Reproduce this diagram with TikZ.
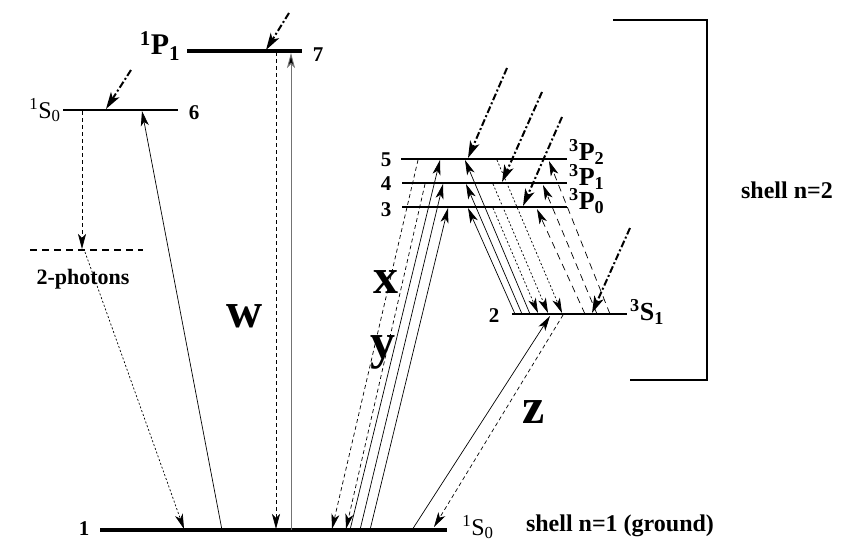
\documentclass[tikz,border=0pt]{standalone}
\usepackage{fontspec}
\setmainfont{Liberation Serif}
\usetikzlibrary{arrows.meta}
\newcommand{\trm}[3]{\textsuperscript{#1}#2\textsubscript{#3}}
\begin{document}
\begin{tikzpicture}[x=1pt,y=-1pt,
  tip/.style={-{Stealth[length=15pt,width=8pt,inset=4pt]}},
  solidarr/.style={tip, line width=0.7pt},
  grayarr/.style={line width=0.9pt, draw=black!55, -{Stealth[length=15pt,width=8pt,inset=4pt,fill=black]}},
  dasharr/.style={tip, line width=0.7pt, dash pattern=on 4pt off 3pt},
  dotarr/.style={tip, line width=0.7pt, dash pattern=on 2pt off 2pt},
  longdash/.style={tip, line width=0.7pt, dash pattern=on 7pt off 5pt},
  incoming/.style={-{Stealth[length=17pt,width=10pt,inset=4.5pt]}, line width=2pt, dash pattern=on 7pt off 2.5pt on 2pt off 2.5pt},
  lev/.style={line width=#1},
  bnum/.style={font=\bfseries\fontsize{21}{21}\selectfont, inner sep=0pt},
  bterm/.style={font=\bfseries\fontsize{26}{26}\selectfont, inner sep=0pt},
  nterm/.style={font=\fontsize{24}{24}\selectfont, inner sep=0pt},
  btext/.style={font=\bfseries\fontsize{24}{24}\selectfont, inner sep=0pt},
  big/.style={font=\bfseries\fontsize{50}{50}\selectfont, inner sep=0pt, anchor=base}
]
\useasboundingbox (0,0) rectangle (841,541);

% ---- levels ----
\coordinate (g1) at (100,530); \coordinate (g2) at (447,530);
\coordinate (l7a) at (187,51); \coordinate (l7b) at (302,51);
\coordinate (l6a) at (63,110); \coordinate (l6b) at (178,110);
\coordinate (tpa) at (30,250); \coordinate (tpb) at (143,250);
\coordinate (l5a) at (401,159); \coordinate (l5b) at (567,159);
\coordinate (l4a) at (402,183); \coordinate (l4b) at (567,183);
\coordinate (l3a) at (402,207); \coordinate (l3b) at (567,207);
\coordinate (l2a) at (512,314); \coordinate (l2b) at (627,314);
\draw[lev=4pt] (g1) -- (g2);
\draw[lev=3.5pt] (l7a) -- (l7b);
\draw[lev=1.8pt] (l6a) -- (l6b);
\draw[lev=1.2pt, dash pattern=on 7pt off 5pt] (tpa) -- (tpb);
\draw[lev=2.2pt] (l5a) -- (l5b);
\draw[lev=2pt] (l4a) -- (l4b);
\draw[lev=1.5pt] (l3a) -- (l3b);
\draw[lev=2.2pt] (l2a) -- (l2b);

% ---- bracket ----
\coordinate (bra) at (613,20); \coordinate (brb) at (707,20);
\coordinate (brc) at (707,380); \coordinate (brd) at (630,380);
\draw[line width=2.5pt] (bra) -- (brb) -- (brc) -- (brd);

% ---- W transitions ----
\coordinate (wu0) at (291,530); \coordinate (wu1) at (291,53);
\coordinate (wd0) at (276,52); \coordinate (wd1) at (276,529);
\draw[grayarr] (wu0) -- (wu1);
\draw[dasharr] (wd0) -- (wd1);

% ---- level 6 ----
\coordinate (s6u0) at (222,530); \coordinate (s6u1) at (142,111);
\coordinate (s6d0) at (82,111); \coordinate (s6d1) at (82,249);
\coordinate (tp0) at (85,252); \coordinate (tp1) at (184,529);
\draw[solidarr] (s6u0) -- (s6u1);
\draw[dasharr] (s6d0) -- (s6d1);
\draw[dotarr] (tp0) -- (tp1);

% ---- incoming ----
\coordinate (i7a) at (289,13); \coordinate (i7b) at (266,50);
\coordinate (i6a) at (131,70); \coordinate (i6b) at (106,109);
\coordinate (i5a) at (507,68); \coordinate (i5b) at (468,158);
\coordinate (i4a) at (542,92); \coordinate (i4b) at (502,182);
\coordinate (i3a) at (562,117); \coordinate (i3b) at (523,206);
\coordinate (i2a) at (630,228); \coordinate (i2b) at (592,313);
\foreach \n in {7,6,5,4,3,2} \draw[incoming] (i\n a) -- (i\n b);

% ---- ground <-> 3,4,5 ----
\coordinate (gu5a) at (350,530); \coordinate (gu5b) at (440,160);
\coordinate (gu4a) at (360,530); \coordinate (gu4b) at (443,184);
\coordinate (gu3a) at (370,530); \coordinate (gu3b) at (448,208);
\foreach \n in {5,4,3} \draw[solidarr] (gu\n a) -- (gu\n b);
\coordinate (gd5a) at (418,160); \coordinate (gd5b) at (332,529);
\coordinate (gd4a) at (425,184); \coordinate (gd4b) at (346,529);
\foreach \n in {5,4} \draw[dasharr] (gd\n a) -- (gd\n b);

% ---- 2 <-> 3,4,5 ----
\coordinate (su5a) at (530,314); \coordinate (su5b) at (465,160);
\coordinate (su4a) at (522,314); \coordinate (su4b) at (466,184);
\coordinate (su3a) at (515,314); \coordinate (su3b) at (468,208);
\foreach \n in {5,4,3} \draw[solidarr] (su\n a) -- (su\n b);
\coordinate (sd5a) at (497,160); \coordinate (sd5b) at (562,313);
\coordinate (sd4a) at (493,184); \coordinate (sd4b) at (548,313);
\coordinate (sd3a) at (493,208); \coordinate (sd3b) at (538,313);
\foreach \n in {5,4,3} \draw[dotarr] (sd\n a) -- (sd\n b);
\coordinate (ld5a) at (610,314); \coordinate (ld5b) at (549,161);
\coordinate (ld4a) at (597,314); \coordinate (ld4b) at (543,185);
\coordinate (ld3a) at (585,314); \coordinate (ld3b) at (537,209);
\foreach \n in {5,4,3} \draw[longdash] (ld\n a) -- (ld\n b);

% ---- ground <-> 2 ----
\coordinate (zu0) at (412,530); \coordinate (zu1) at (550,316);
\coordinate (zd0) at (563,315); \coordinate (zd1) at (434,527);
\draw[solidarr] (zu0) -- (zu1);
\draw[dasharr] (zd0) -- (zd1);

% ---- labels ----
\node[font=\bfseries\fontsize{30}{30}\selectfont, inner sep=0pt] (p1lab) at (160,46) {\trm{1}{P}{1}};
\node[bnum] (n7) at (318,55) {7};
\node[nterm] (s6lab) at (45,110) {\trm{1}{S}{0}};
\node[bnum] (n6) at (194,113) {6};
\node[font=\bfseries\fontsize{22}{22}\selectfont, inner sep=0pt] (tplab) at (83,279) {2-photons};
\node[bnum] (n1) at (84,529) {1};
\node[nterm] (s0lab) at (478,527) {\trm{1}{S}{0}};
\node[btext] (sh1) at (620,526) {shell n=1 (ground)};
\node[btext] (sh2) at (787,190) {shell n=2};
\node[bnum] (n5) at (386,160) {5};
\node[bnum] (n4) at (386,184) {4};
\node[bnum] (n3) at (386,210) {3};
\node[bterm, anchor=west] (p2lab) at (569,152) {\trm{3}{P}{2}};
\node[bterm, anchor=west] (p1tlab) at (569,177) {\trm{3}{P}{1}};
\node[bterm, anchor=west] (p0lab) at (569,201) {\trm{3}{P}{0}};
\node[bnum] (n2) at (494,316) {2};
\node[bterm, anchor=west] (s1lab) at (630,312) {\trm{3}{S}{1}};
\node[big] (wlab) at (245,327) {w};
\node[big] (xlab) at (386,293) {x};
\node[big] (ylab) at (383,358) {y};
\node[big] (zlab) at (534,423) {z};
\end{tikzpicture}
\end{document}
